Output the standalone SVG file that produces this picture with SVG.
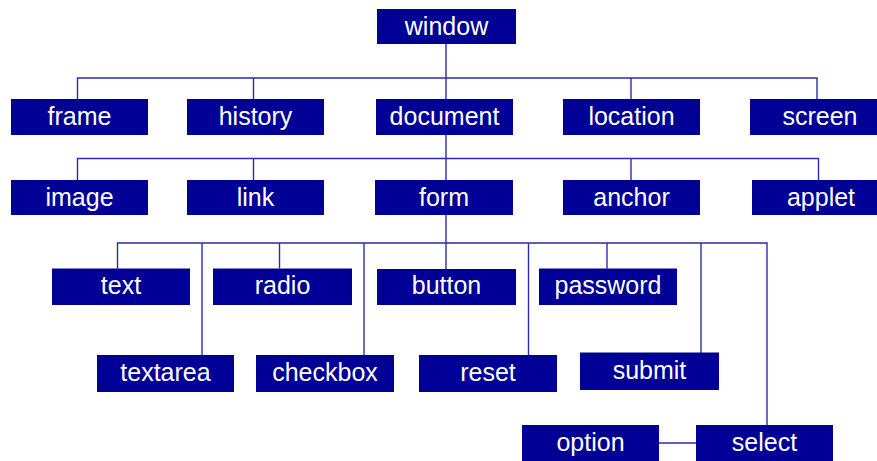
<svg xmlns="http://www.w3.org/2000/svg" width="877" height="461" viewBox="0 0 877 461">
  <style>
    .box { fill: #000096; }
    .lbl { fill: #ffffff; font-family: "Liberation Sans", Arial, sans-serif; font-size: 25px; text-anchor: middle; }
    .wire { stroke: #2b2bb0; stroke-width: 1.4; fill: none; }
  </style>
  <rect width="877" height="461" fill="#ffffff"/>

  <!-- connectors -->
  <g id="connectors" class="wire">
    <!-- window -> second row -->
    <path d="M446 44 V99"/>
    <path d="M77.5 99 V78 H817 V99"/>
    <path d="M253.5 78 V99"/>
    <path d="M631 78 V99"/>
    <!-- document -> third row -->
    <path d="M446 135 V180"/>
    <path d="M77.5 180 V158.5 H818.5 V180"/>
    <path d="M253.5 158.5 V180"/>
    <path d="M631 158.5 V180"/>
    <!-- form -> form elements -->
    <path d="M446 215 V269"/>
    <path d="M117.5 268.5 V243 H767 V425"/>
    <path d="M202 243 V355"/>
    <path d="M279.5 243 V268.5"/>
    <path d="M364 243 V355"/>
    <path d="M528.5 243 V355"/>
    <path d="M607 243 V268.5"/>
    <path d="M701 243 V353"/>
    <!-- option - select -->
    <path d="M659 443 H696"/>
  </g>

  <!-- nodes -->
  <g id="window"><rect class="box" x="377" y="9" width="139" height="35"/><text class="lbl" x="446.5" y="35">window</text></g>

  <g id="frame"><rect class="box" x="11" y="99" width="137" height="36"/><text class="lbl" x="79.5" y="125">frame</text></g>
  <g id="history"><rect class="box" x="187" y="99" width="137" height="36"/><text class="lbl" x="255.5" y="125">history</text></g>
  <g id="document"><rect class="box" x="376" y="99" width="137" height="36"/><text class="lbl" x="444.5" y="125">document</text></g>
  <g id="location"><rect class="box" x="563" y="99" width="137" height="36"/><text class="lbl" x="631.5" y="125">location</text></g>
  <g id="screen"><rect class="box" x="750" y="99" width="137" height="36"/><text class="lbl" x="820" y="125">screen</text></g>

  <g id="image"><rect class="box" x="11" y="180" width="137" height="35"/><text class="lbl" x="79.5" y="205.5">image</text></g>
  <g id="link"><rect class="box" x="187" y="180" width="137" height="35"/><text class="lbl" x="255.5" y="205.5">link</text></g>
  <g id="form"><rect class="box" x="375" y="180" width="138" height="35"/><text class="lbl" x="444" y="205.5">form</text></g>
  <g id="anchor"><rect class="box" x="563" y="180" width="137" height="35"/><text class="lbl" x="631.5" y="205.5">anchor</text></g>
  <g id="applet"><rect class="box" x="752" y="180" width="137" height="35"/><text class="lbl" x="821" y="205.5">applet</text></g>

  <g id="text"><rect class="box" x="52" y="268.5" width="138" height="36.5"/><text class="lbl" x="121" y="294">text</text></g>
  <g id="radio"><rect class="box" x="213" y="268.5" width="139" height="36.5"/><text class="lbl" x="282.5" y="294">radio</text></g>
  <g id="button"><rect class="box" x="377" y="269" width="139" height="36"/><text class="lbl" x="446.5" y="294">button</text></g>
  <g id="password"><rect class="box" x="539" y="268.5" width="138" height="36.5"/><text class="lbl" x="608" y="294">password</text></g>

  <g id="textarea"><rect class="box" x="97" y="355" width="137" height="37"/><text class="lbl" x="165.5" y="381">textarea</text></g>
  <g id="checkbox"><rect class="box" x="256" y="355" width="138" height="37"/><text class="lbl" x="325" y="381">checkbox</text></g>
  <g id="reset"><rect class="box" x="419" y="355" width="138" height="37"/><text class="lbl" x="488" y="381">reset</text></g>
  <g id="submit"><rect class="box" x="580" y="352.5" width="139" height="37.5"/><text class="lbl" x="649.5" y="378.5">submit</text></g>

  <g id="option"><rect class="box" x="522" y="425" width="137" height="37"/><text class="lbl" x="590.5" y="451">option</text></g>
  <g id="select"><rect class="box" x="696" y="425" width="137" height="37"/><text class="lbl" x="764.5" y="451">select</text></g>
</svg>
